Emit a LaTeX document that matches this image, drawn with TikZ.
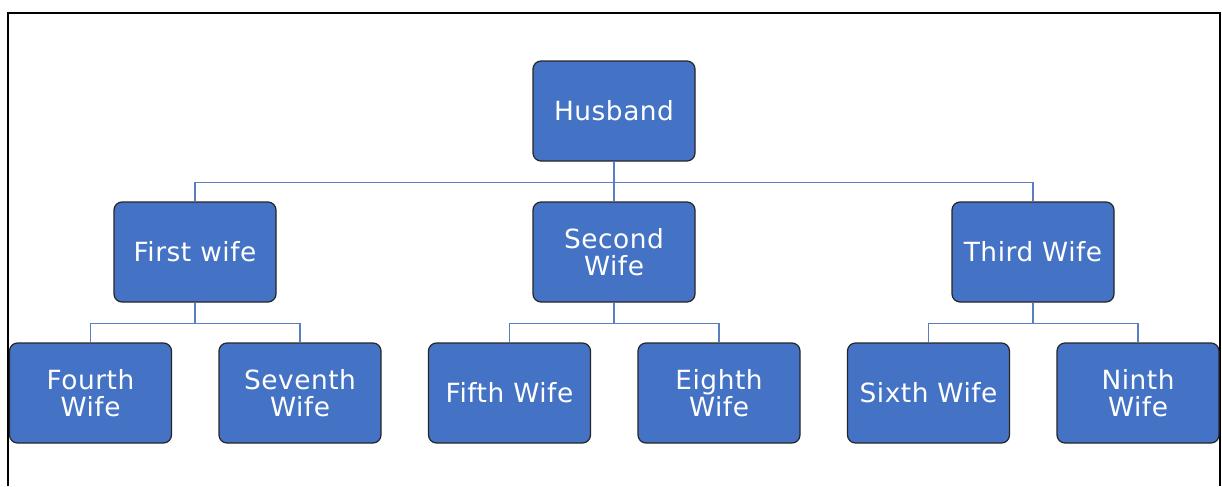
\documentclass[tikz,border=0pt]{standalone}
\usepackage{fontspec}
\setmainfont{DejaVu Sans}[LetterSpace=2]
\begin{document}
\begin{tikzpicture}[x=0.75pt,y=-0.75pt,
  wbox/.style={draw=black!85,line width=0.9pt,fill=boxblue,rounded corners=6pt,
    minimum width=121.5pt,minimum height=75pt,inner sep=0pt,align=center,
    text=white,font=\fontsize{19.8pt}{20.5pt}\selectfont},
  link/.style={draw=lineblue,line width=1.1pt}]
\definecolor{boxblue}{HTML}{4472C4}
\definecolor{lineblue}{HTML}{5A7EC2}
\useasboundingbox (0,0) rectangle (1222,486);
\fill[white] (0,0) rectangle (1222,486);
\draw[black,line width=1.6pt] (8,486) -- (8,13) -- (1220,13) -- (1220,486);
% nodes
\node[wbox] (h) at (614,111) {Husband};
\node[wbox] (w1) at (195,252) {First wife};
\node[wbox] (w2) at (614,252) {Second\\Wife};
\node[wbox] (w3) at (1033,252) {Third Wife};
\node[wbox] (w4) at (90.5,393) {Fourth\\Wife};
\node[wbox] (w7) at (300,393) {Seventh\\Wife};
\node[wbox] (w5) at (509.5,393) {Fifth Wife};
\node[wbox] (w8) at (719,393) {Eighth\\Wife};
\node[wbox] (w6) at (928.5,393) {Sixth Wife};
\node[wbox] (w9) at (1138,393) {Ninth\\Wife};
% connectors
\draw[link] (h.south) -- ++(0,21) -| (w1.north);
\draw[link] (h.south) -- (w2.north);
\draw[link] (h.south) -- ++(0,21) -| (w3.north);
\draw[link] (w1.south) -- ++(0,21) -| (w4.north);
\draw[link] (w1.south) -- ++(0,21) -| (w7.north);
\draw[link] (w2.south) -- ++(0,21) -| (w5.north);
\draw[link] (w2.south) -- ++(0,21) -| (w8.north);
\draw[link] (w3.south) -- ++(0,21) -| (w6.north);
\draw[link] (w3.south) -- ++(0,21) -| (w9.north);
\end{tikzpicture}
\end{document}
